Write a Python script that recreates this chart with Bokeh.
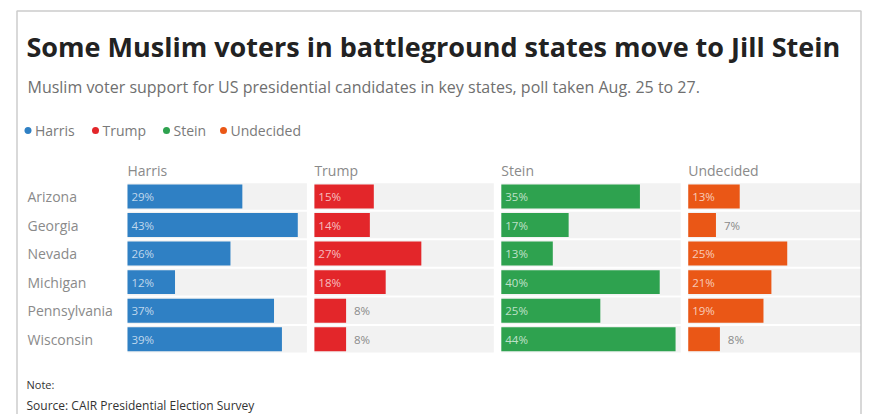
from bokeh.plotting import figure
from bokeh.models import Range1d, ColumnDataSource, BoxAnnotation
from bokeh.core.properties import value
from bokeh.embed import file_html
from bokeh.resources import INLINE

# ---- data ----
states = ["Arizona", "Georgia", "Nevada", "Michigan", "Pennsylvania", "Wisconsin"]
candidates = ["Harris", "Trump", "Stein", "Undecided"]
harris = [29, 43, 26, 12, 37, 39]
trump = [15, 14, 27, 18, 8, 8]
stein = [35, 17, 13, 40, 25, 44]
undecided = [13, 7, 25, 21, 19, 8]
colors = ["#2f80c4", "#e3262a", "#2ea24f", "#ea5716"]

title_text = "Some Muslim voters in battleground states move to Jill Stein"
subtitle_text = "Muslim voter support for US presidential candidates in key states, poll taken Aug. 25 to 27."
note_text = "Note:"
source_text = "Source: CAIR Presidential Election Survey"

# ---- layout (pixel geometry -> data units) ----
W, H = 875, 414
X0 = 127.0          # pixel x of 0% in the first panel
SX = 3.96           # pixels per percentage point
Y0 = 196.0          # pixel y of first row centre
SY = 28.54          # pixels per row
PANEL = 47.2        # panel spacing in % units
BAND = 45.3         # grey band width in % units

def X(px):
    return (px - X0) / SX

def Y(py):
    return (py - Y0) / SY

FONT = value("Open Sans")

p = figure(width=W, height=H, output_backend="svg", toolbar_location=None,
           x_range=Range1d(X(0), X(W)), y_range=Range1d(Y(H), Y(0)),
           min_border=0, outline_line_color=None, background_fill_color="white",
           border_fill_color="white")
p.axis.visible = False
p.grid.visible = False

series = [harris, trump, stein, undecided]
rows = list(range(len(states)))

# grey background bands
for k in range(len(candidates)):
    left = k * PANEL
    right = min(left + BAND, X(860))
    p.hbar(y=rows, left=left, right=right, height=0.93,
           fill_color="#f2f2f2", line_color=None)

# bars + value labels
for k, (vals, col) in enumerate(zip(series, colors)):
    left = k * PANEL
    src = ColumnDataSource(dict(y=rows, right=[left + v for v in vals], v=vals))
    p.hbar(y="y", left=left, right="right", height=0.84, source=src,
           fill_color=col, line_color=None)
    inside = [i for i, v in enumerate(vals) if v >= 10]
    outside = [i for i, v in enumerate(vals) if v < 10]
    p.text(x=[left + 1.0 for i in inside], y=[rows[i] for i in inside],
           text=[f"{vals[i]}%" for i in inside], text_font=FONT,
           text_font_size="11.5px", text_color="white", text_alpha=0.7,
           text_baseline="middle", text_align="left")
    p.text(x=[left + vals[i] + 2.0 for i in outside], y=[rows[i] for i in outside],
           text=[f"{vals[i]}%" for i in outside], text_font=FONT,
           text_font_size="11.5px", text_color="#8a8a8a",
           text_baseline="middle", text_align="left")
    # column header
    p.text(x=[left], y=[Y(170)], text=[candidates[k]], text_font=FONT,
           text_font_size="14px", text_color="#8a8a8a",
           text_baseline="alphabetic", text_align="left")

# state labels
p.text(x=[X(27)] * len(states), y=rows, text=states, text_font=FONT,
       text_font_size="14px", text_color="#8a8a8a",
       text_baseline="middle", text_align="left")

# title / subtitle
p.text(x=[X(26)], y=[Y(46)], text=[title_text], text_font=FONT,
       text_font_size="27px", text_font_style="bold", text_color="#222222",
       text_baseline="alphabetic", text_align="left")
p.text(x=[X(27)], y=[Y(86)], text=[subtitle_text], text_font=FONT,
       text_font_size="16px", text_color="#6f6f6f",
       text_baseline="alphabetic", text_align="left")

# legend
leg_dot_px = [27.5, 95, 166, 223]
for k, name in enumerate(candidates):
    p.scatter(x=[X(leg_dot_px[k])], y=[Y(130)], size=7, marker="circle",
              fill_color=colors[k], line_color=None)
    p.text(x=[X(leg_dot_px[k] + 7)], y=[Y(130)], text=[name], text_font=FONT,
           text_font_size="14px", text_color="#7a7a7a",
           text_baseline="middle", text_align="left")

# note / source
p.text(x=[X(26)], y=[Y(384)], text=[note_text], text_font=FONT,
       text_font_size="11px", text_color="#333333",
       text_baseline="alphabetic", text_align="left")
p.text(x=[X(26)], y=[Y(405)], text=[source_text], text_font=FONT,
       text_font_size="12px", text_color="#333333",
       text_baseline="alphabetic", text_align="left")

# frame border
p.add_layout(BoxAnnotation(left=X(16.5), right=X(860.5), top=Y(10.5), bottom=Y(430),
                           fill_alpha=0, line_color="#555555", line_width=1.5))

open("out.html", "w").write(file_html(p, INLINE))
